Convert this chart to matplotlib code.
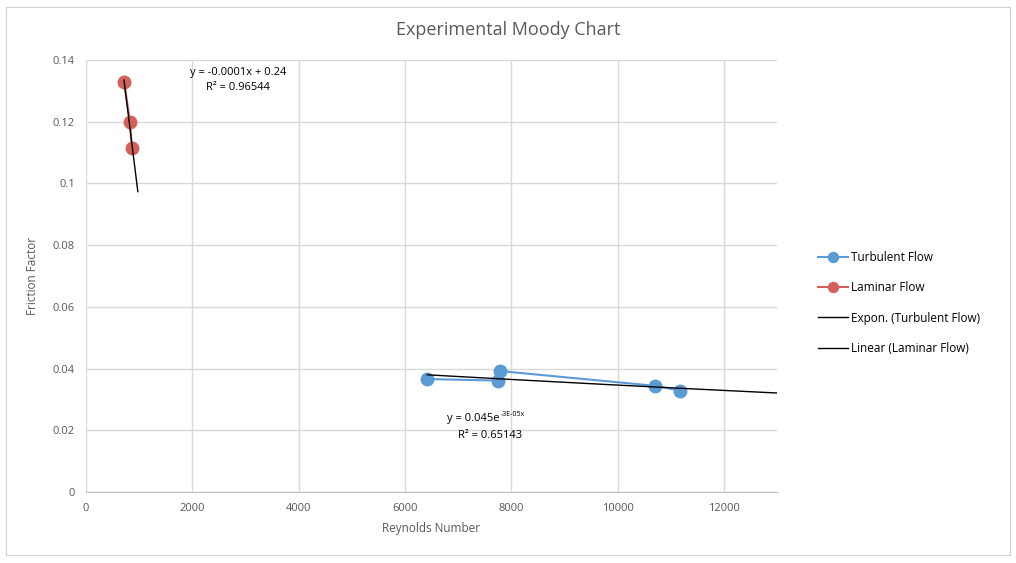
import numpy as np
import matplotlib
matplotlib.use("Agg")
import matplotlib.pyplot as plt
from matplotlib.patches import Rectangle

plt.rcParams['font.family'] = ['Open Sans', 'DejaVu Sans']

# ---- data ----
turb_re = [6420, 7760, 7790, 10710, 11180]
turb_f = [0.0366, 0.0361, 0.0392, 0.0344, 0.0328]
lam_re = [715, 828, 860]
lam_f = [0.1330, 0.1200, 0.1116]
x_ticks = [0, 2000, 4000, 6000, 8000, 10000, 12000]
y_ticks = [0, 0.02, 0.04, 0.06, 0.08, 0.1, 0.12, 0.14]
y_tick_labels = ['0', '0.02', '0.04', '0.06', '0.08', '0.1', '0.12', '0.14']
lam_eq = 'y = -0.0001x + 0.24'
lam_r2 = 'R² = 0.96544'
turb_eq_base = 'y = 0.045e'
turb_eq_exp = '-3E-05x'
turb_r2 = 'R² = 0.65143'

blue = '#5B9BD5'
red = '#D2605B'
txt = '#595959'
grid = '#D9D9D9'

fig = plt.figure(figsize=(10.16, 5.63), dpi=100)
fig.patches.append(Rectangle((6/1016, 8/563), 1004/1016, 548/563,
                             transform=fig.transFigure, fill=False,
                             edgecolor='#D0D0D0', lw=0.8))
ax = fig.add_axes([86/1016, 71/563, 691/1016, 432/563])

# fits
lc = np.polyfit(lam_re, lam_f, 1)
lx = np.linspace(min(lam_re), 975, 50)
ec = np.polyfit(turb_re, np.log(turb_f), 1)
ex = np.linspace(min(turb_re), 13000, 200)

ax.plot(turb_re, turb_f, '-o', color=blue, lw=1.5, ms=9, label='Turbulent Flow', zorder=3)
ax.plot(lam_re, lam_f, '-o', color=red, lw=1.5, ms=9, label='Laminar Flow', zorder=3)
ax.plot(ex, np.exp(ec[1]) * np.exp(ec[0] * ex), color='black', lw=1.0,
        label='Expon. (Turbulent Flow)', zorder=4)
ax.plot(lx, np.polyval(lc, lx), color='black', lw=1.0,
        label='Linear (Laminar Flow)', zorder=4)

ax.set_xlim(0, 13000)
ax.set_ylim(0, 0.14)
ax.set_xticks(x_ticks)
ax.set_yticks(y_ticks)
ax.set_yticklabels(y_tick_labels)
ax.grid(True, color=grid, lw=1.0)
ax.set_axisbelow(True)
for s in ['top', 'right', 'left']:
    ax.spines[s].set_visible(False)
ax.spines['bottom'].set_color('#BFBFBF')
ax.tick_params(length=0, colors=txt, labelsize=8, pad=8)

ax.set_xlabel('Reynolds Number', color=txt, fontsize=8.5, labelpad=6)
ax.set_ylabel('Friction Factor', color=txt, fontsize=8.5, labelpad=10)
fig.text(0.5, 1 - 30/563, 'Experimental Moody Chart', ha='center', va='center',
         color=txt, fontsize=13)

fig.text(238/1016, 1 - 72/563, lam_eq, ha='center', va='center', fontsize=8, color='black')
fig.text(238/1016, 1 - 88/563, lam_r2, ha='center', va='center', fontsize=8, color='black')
base = fig.text(447/1016, 1 - 419/563, turb_eq_base, ha='left', va='center',
                fontsize=8, color='black')
fig.canvas.draw()
bb = base.get_window_extent()
fig.text(bb.x1 / fig.bbox.width + 1/1016, 1 - 415/563, turb_eq_exp, ha='left',
         va='center', fontsize=5, color='black')
fig.text(490/1016, 1 - 436/563, turb_r2, ha='center', va='center', fontsize=8, color='black')

leg = ax.legend(loc='center left', bbox_to_anchor=(807/1016, 1 - 303/563),
                bbox_transform=fig.transFigure, frameon=False, fontsize=8.5,
                labelspacing=1.45, handlelength=2.6, handletextpad=0.2,
                markerscale=0.8)
for t in leg.get_texts():
    t.set_color('black')

fig.savefig('out.png', dpi=100)
